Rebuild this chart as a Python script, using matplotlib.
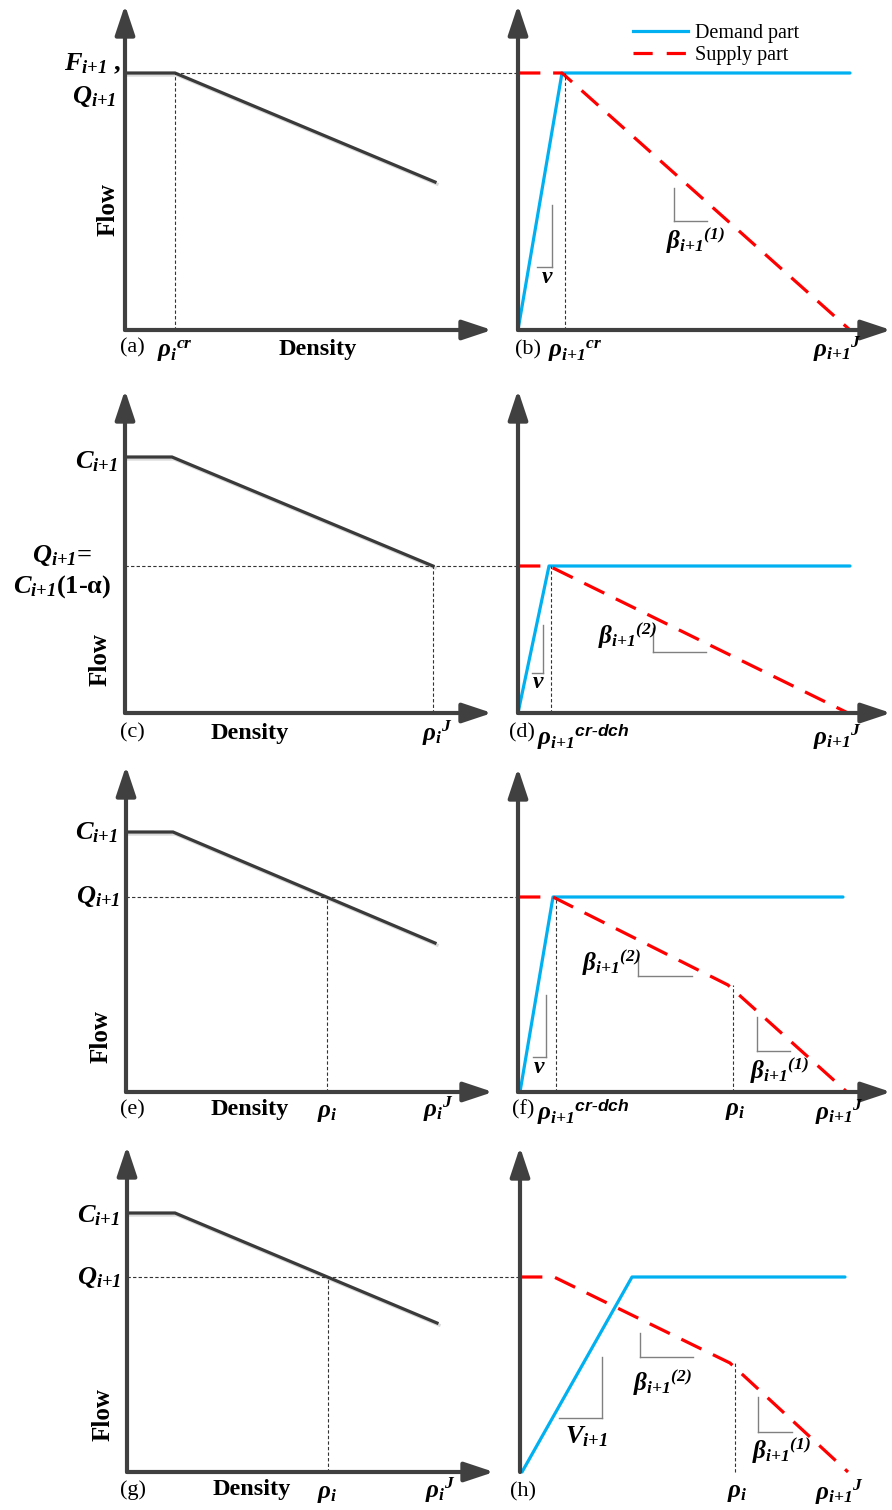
import matplotlib
matplotlib.use('Agg')
import matplotlib.pyplot as plt
import matplotlib.patheffects as pe
from matplotlib.lines import Line2D

plt.rcParams['mathtext.fontset'] = 'custom'
plt.rcParams['mathtext.rm'] = 'Liberation Serif:bold:italic'
plt.rcParams['mathtext.it'] = 'Liberation Serif:bold:italic'
plt.rcParams['mathtext.bf'] = 'Liberation Serif:bold'
plt.rcParams['mathtext.sf'] = 'Liberation Sans:bold:italic'
plt.rcParams['font.family'] = ['Liberation Serif', 'DejaVu Serif']

# ---------------- data (local units: density to the right, flow upward) ----
# left panels: upstream fundamental diagram (flow line)
a_dens = [0, 50, 310];  a_flow = [257, 257, 148]
c_dens = [0, 47, 308];  c_flow = [256, 256, 147]
e_dens = [0, 47, 309];  e_flow = [260, 260, 149]
g_dens = [0, 48, 310];  g_flow = [259, 259, 149]
a_Q, a_rhocr = 257, 50
c_Q, c_rhoJ = 147, 308
e_Q, e_rhoi = 195, 201
g_Q, g_rhoi = 195, 201

# right panels: demand part (blue) and supply part (red)
b_dem_x = [0, 44, 332];  b_dem_y = [0, 257, 257]
b_sup_x = [0, 44, 332];  b_sup_y = [257, 257, 0]
d_dem_x = [0, 31, 332];  d_dem_y = [0, 147, 147]
d_sup_x = [0, 31, 330];  d_sup_y = [147, 147, 0]
f_dem_x = [2, 35, 325];  f_dem_y = [0, 195, 195]
f_sup_x = [0, 35, 210, 329];  f_sup_y = [195, 195, 107, 0]
h_dem_x = [2, 112, 325]; h_dem_y = [0, 195, 195]
h_sup_x = [0, 34, 210, 328];  h_sup_y = [195, 195, 109, 0]
b_rhocr = 47
d_rhocr = 33
f_rhocr, f_rhoi = 38, 215
h_rhoi = 215

# slope marker triangles: (x_vertical, y_top, y_bottom, x_left, x_right)
b_tri = [(34, 125, 63, 19, 34), (156, 142, 109, 156, 189)]
d_tri = [(25, 88, 40, 14, 25), (135, 85, 61, 135, 188)]
f_tri = [(28, 97, 35, 15, 28), (120, 137, 116, 120, 174), (239, 75, 41, 239, 272)]
h_tri = [(82, 115, 54, 39, 82), (120, 139, 115, 120, 173), (238, 75, 40, 238, 272)]

# ---------------- style ----------------
W, H = 892, 1510
AX = '#404040'
FL = '#3a3a3a'
BLUE = '#00b0f0'
RED = '#ff0000'
fig = plt.figure(figsize=(W / 100, H / 100), dpi=100)

shadow = [pe.SimpleLineShadow(offset=(1.5, -1.5), shadow_color='#9a9a9a', alpha=0.35), pe.Normal()]


def panel_ax(ox, oy):
    ax = fig.add_axes([0, 0, 1, 1])
    ax.set_xlim(-ox, W - ox)
    ax.set_ylim(oy - H, oy)
    ax.axis('off')
    ax.patch.set_alpha(0)
    return ax


def draw_axes(ax, xlen, ylen):
    for tip in [(xlen, 0), (0, ylen)]:
        ax.annotate('', xy=tip, xytext=(0, 0),
                    arrowprops=dict(arrowstyle='-|>,head_length=1.8,head_width=0.6',
                                    mutation_scale=10, lw=3, color=AX,
                                    shrinkA=0, shrinkB=0))


def thin_dash(ax, x, y):
    ax.plot(x, y, color='#333333', lw=0.8, ls=(0, (3, 2)), clip_on=False)


def tri(ax, t):
    xv, yt, yb, xl, xr = t
    ax.plot([xv, xv], [yt, yb], color='#808080', lw=1.0, clip_on=False)
    ax.plot([xl, xr], [yb, yb], color='#808080', lw=1.0, clip_on=False)


def left_panel(ox, oy, dens, flow, ylen):
    ax = panel_ax(ox, oy)
    draw_axes(ax, 367, ylen)
    ax.plot(dens, flow, color=FL, lw=2.3, clip_on=False, path_effects=shadow,
            solid_joinstyle='miter')
    return ax


def right_panel(ox, oy, dx, dy, sx, sy, ylen):
    ax = panel_ax(ox, oy)
    draw_axes(ax, 373, ylen)
    ax.plot(dx, dy, color=BLUE, lw=2.3, clip_on=False, solid_capstyle='round')
    ax.plot(sx, sy, color=RED, lw=2.3, ls=(0, (7, 4)), clip_on=False)
    return ax


def txt(x, y, s, size, ha='center', va='center', **kw):
    fig.text(x / W, 1 - y / H, s, fontsize=size, ha=ha, va=va, **kw)


# ---- (a)
ax = left_panel(125, 330, a_dens, a_flow, 325)
thin_dash(ax, [a_rhocr, a_rhocr], [0, a_Q])
thin_dash(ax, [a_rhocr, 393], [a_Q, a_Q])
# ---- (b)
ax = right_panel(518, 330, b_dem_x, b_dem_y, b_sup_x, b_sup_y, 325)
thin_dash(ax, [b_rhocr, b_rhocr], [0, b_dem_y[1]])
for t in b_tri:
    tri(ax, t)
ax.legend(handles=[Line2D([], [], color=BLUE, lw=2.3),
                   Line2D([], [], color=RED, lw=2.3, ls=(0, (6, 4.4)))],
          labels=['Demand part', 'Supply part'], loc='upper left',
          bbox_to_anchor=(633 / W, 1 - 24 / H), bbox_transform=fig.transFigure,
          frameon=False, fontsize=14.5, handlelength=2.75, handletextpad=0.35,
          labelspacing=0.12, borderpad=0, borderaxespad=0)
# ---- (c)
ax = left_panel(125, 713, c_dens, c_flow, 323)
thin_dash(ax, [0, 393], [c_Q, c_Q])
thin_dash(ax, [c_rhoJ, c_rhoJ], [0, c_Q])
# ---- (d)
ax = right_panel(518, 713, d_dem_x, d_dem_y, d_sup_x, d_sup_y, 323)
thin_dash(ax, [d_rhocr, d_rhocr], [0, d_dem_y[1]])
for t in d_tri:
    tri(ax, t)
# ---- (e)
ax = left_panel(126, 1092, e_dens, e_flow, 326)
thin_dash(ax, [0, 392], [e_Q, e_Q])
thin_dash(ax, [e_rhoi, e_rhoi], [0, e_Q])
# ---- (f)
ax = right_panel(518, 1092, f_dem_x, f_dem_y, f_sup_x, f_sup_y, 324)
thin_dash(ax, [f_rhocr, f_rhocr], [0, f_dem_y[1]])
thin_dash(ax, [f_rhoi, f_rhoi], [0, f_sup_y[2]])
for t in f_tri:
    tri(ax, t)
# ---- (g)
ax = left_panel(127, 1472, g_dens, g_flow, 326)
thin_dash(ax, [0, 391], [g_Q, g_Q])
thin_dash(ax, [g_rhoi, g_rhoi], [0, g_Q])
# ---- (h)
ax = right_panel(520, 1472, h_dem_x, h_dem_y, h_sup_x, h_sup_y, 325)
thin_dash(ax, [h_rhoi, h_rhoi], [0, h_sup_y[2]])
for t in h_tri:
    tri(ax, t)

# ---------------- texts ----------------
SUB = r'{i{+}1}'
RHO_I1 = r'$\rho_' + SUB
BOLD = dict(fontweight='bold')

def flow_label(x, y):
    txt(x, y, 'Flow', 18, rotation=90, **BOLD)

def dens_label(x, y):
    txt(x, y, 'Density', 17.5, **BOLD)

def letter(x, y, s):
    txt(x, y, s, 16)

# (a)
txt(121, 70, r'$F_' + SUB + r'$ ,', 19, ha='right', va='baseline', **BOLD)
txt(116, 103, r'$Q_' + SUB + r'$', 19, ha='right', va='baseline')
flow_label(108, 210)
letter(132, 348, '(a)')
txt(157, 357, r'$\rho_{i}{}^{cr}$', 18, ha='left', va='baseline')
dens_label(318, 350)
# (b)
letter(528, 350, '(b)')
txt(548, 357, RHO_I1 + r'{}^{cr}$', 18, ha='left', va='baseline')
txt(813, 357, RHO_I1 + r'{}^{J}$', 18, ha='left', va='baseline')
txt(547, 283, r'$v$', 17, va='baseline')
txt(666, 248, r'$\beta_' + SUB + r'{}^{(1)}$', 18, ha='left', va='baseline')
# (c)
txt(118, 468, r'$C_' + SUB + r'$', 19, ha='right', va='baseline')
txt(62, 562, r'$Q_' + SUB + r'$=', 19, va='baseline', **BOLD)
txt(62, 593, r'$C_' + SUB + r'$(1-α)', 19, va='baseline', **BOLD)
flow_label(100, 660)
letter(132, 733, '(c)')
dens_label(250, 733)
txt(422, 741, r'$\rho_{i}{}^{J}$', 18, ha='left', va='baseline')
# (d)
letter(522, 733, '(d)')
txt(537, 745, RHO_I1 + r'{}^{\mathsf{cr\text{-}dch}}$', 18, ha='left', va='baseline')
txt(813, 745, RHO_I1 + r'{}^{J}$', 18, ha='left', va='baseline')
txt(538, 688, r'$v$', 17, va='baseline')
txt(598, 643, r'$\beta_' + SUB + r'{}^{(2)}$', 18, ha='left', va='baseline')
# (e)
txt(118, 839, r'$C_' + SUB + r'$', 19, ha='right', va='baseline')
txt(120, 903, r'$Q_' + SUB + r'$', 19, ha='right', va='baseline')
flow_label(101, 1037)
letter(132, 1110, '(e)')
dens_label(250, 1110)
txt(317, 1117, r'$\rho_{i}$', 18, ha='left', va='baseline')
txt(423, 1117, r'$\rho_{i}{}^{J}$', 18, ha='left', va='baseline')
# (f)
letter(523, 1110, '(f)')
txt(537, 1120, RHO_I1 + r'{}^{\mathsf{cr\text{-}dch}}$', 18, ha='left', va='baseline')
txt(725, 1115, r'$\rho_{i}$', 18, ha='left', va='baseline')
txt(815, 1120, RHO_I1 + r'{}^{J}$', 18, ha='left', va='baseline')
txt(539, 1073, r'$v$', 17, va='baseline')
txt(582, 970, r'$\beta_' + SUB + r'{}^{(2)}$', 18, ha='left', va='baseline')
txt(750, 1078, r'$\beta_' + SUB + r'{}^{(1)}$', 18, ha='left', va='baseline')
# (g)
txt(120, 1222, r'$C_' + SUB + r'$', 19, ha='right', va='baseline')
txt(121, 1284, r'$Q_' + SUB + r'$', 19, ha='right', va='baseline')
flow_label(103, 1415)
letter(133, 1490, '(g)')
dens_label(252, 1490)
txt(317, 1498, r'$\rho_{i}$', 18, ha='left', va='baseline')
txt(425, 1498, r'$\rho_{i}{}^{J}$', 18, ha='left', va='baseline')
# (h)
letter(523, 1492, '(h)')
txt(727, 1497, r'$\rho_{i}$', 18, ha='left', va='baseline')
txt(815, 1500, RHO_I1 + r'{}^{J}$', 18, ha='left', va='baseline')
txt(565, 1443, r'$V_' + SUB + r'$', 19, ha='left', va='baseline')
txt(633, 1390, r'$\beta_' + SUB + r'{}^{(2)}$', 18, ha='left', va='baseline')
txt(752, 1458, r'$\beta_' + SUB + r'{}^{(1)}$', 18, ha='left', va='baseline')

fig.savefig('out.png', dpi=100)
